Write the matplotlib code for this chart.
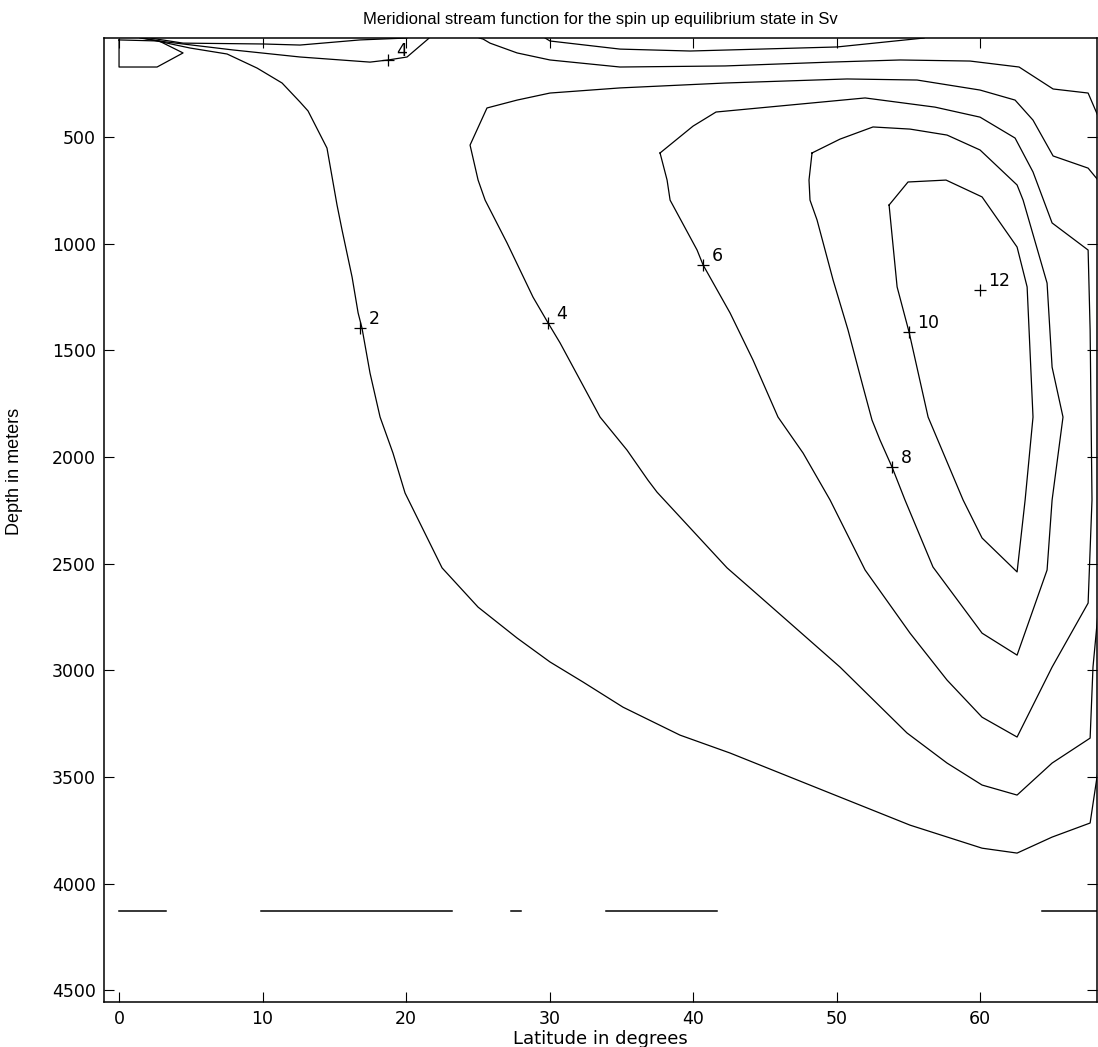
import matplotlib
matplotlib.use("Agg")
import matplotlib.pyplot as plt

# contour lines: latitude (deg) / depth (m)
# contour 2, deep branch (surface near 2N, down to the bottom, out at the right edge)
c2_lat = [1.67, 4.95, 7.53, 9.62, 11.36, 12.61, 13.17, 14.49, 15.19, 15.54, 16.24, 16.66,
          16.93, 17.49, 18.19, 19.09, 19.93, 22.51, 25.02, 27.74, 30.03, 32.33, 35.12,
          39.09, 42.58, 49.55, 55.12, 60.14, 62.58, 65.02, 67.67, 68.15, 68.6]
c2_dep = [36, 83, 111, 177, 247, 336, 378, 552, 819, 936, 1157, 1325,
          1396, 1607, 1813, 1982, 2169, 2520, 2704, 2849, 2961, 3055, 3173,
          3304, 3388, 3576, 3726, 3834, 3857, 3782, 3716, 3500, 3300]
# contour 2, shallow branch along the surface
c2s_lat = [68.6, 68.22, 67.53, 65.09, 62.72, 59.30, 54.43, 49.55, 42.23, 34.91, 30.03,
           27.74, 25.85, 25.37, 25.1]
c2s_dep = [450, 402, 294, 275, 172, 144, 139, 149, 167, 172, 139, 106, 60, 41, 36]

# contour 4, main cell (leaves and re-enters at the right edge)
c4_lat = [68.6, 68.22, 67.53, 65.09, 63.69, 62.44, 60.00, 55.61, 50.73, 42.23, 34.91,
          30.03, 27.74, 25.64, 24.46, 25.02, 25.51, 27.04, 28.85, 29.90, 30.73, 33.52,
          35.40, 36.86, 37.49, 42.37, 43.97, 46.76, 50.24, 54.91, 57.70, 60.14, 62.58,
          65.02, 67.67, 67.87, 68.22, 68.6]
c4_dep = [720, 702, 646, 589, 421, 327, 280, 233, 228, 247, 270,
          294, 327, 364, 538, 702, 796, 997, 1251, 1372, 1465, 1813,
          1968, 2109, 2165, 2520, 2614, 2779, 2985, 3294, 3435, 3538, 3585,
          3435, 3318, 2985, 2732, 2650]
# contour 4, Ekman lens near the surface
c4s_lat = [1.46, 3.34, 7.94, 12.61, 17.49, 18.75, 20.07, 21.53, 21.6]
c4s_dep = [36, 55, 92, 125, 149, 139, 125, 41, 36]

# thin surface lenses
s1_lat = [2.16, 4.46, 10.03, 12.61, 16.79, 20.07]
s1_dep = [36, 60, 64, 69, 45, 36]
s2_lat = [29.69, 30.03, 34.91, 39.79, 44.67, 50.03, 56.10]
s2_dep = [36, 50, 88, 97, 88, 78, 36]
# small closed contour in the top left corner
cp_lat = [0.0, 0.0, 2.65, 4.46, 2.79, 0.0]
cp_dep = [45, 172, 172, 106, 50, 45]

c6_lat = [37.70, 40.00, 41.60, 51.99, 56.86, 60.00, 62.44, 63.69, 65.02, 67.53, 67.67,
          67.80, 67.53, 65.02, 62.58, 60.14, 57.70, 55.12, 51.99, 49.55, 47.67, 45.92,
          44.18, 42.58, 40.70, 40.28, 38.40, 38.19, 37.70]
c6_dep = [575, 449, 383, 317, 360, 407, 505, 664, 903, 1030, 1405,
          2202, 2685, 2985, 3313, 3220, 3046, 2826, 2530, 2202, 1982, 1813,
          1546, 1325, 1100, 1030, 796, 702, 575]

c8_lat = [48.29, 50.24, 52.54, 55.12, 57.70, 60.00, 62.58, 63.00, 64.67, 65.02, 65.78,
          65.02, 64.67, 62.58, 60.14, 56.72, 54.77, 53.87, 53.03, 52.47, 51.85, 50.80,
          49.76, 48.64, 48.15, 48.08, 48.29]
c8_dep = [575, 510, 453, 463, 491, 561, 725, 796, 1185, 1579, 1813,
          2202, 2530, 2929, 2826, 2516, 2202, 2048, 1921, 1827, 1672, 1405,
          1171, 889, 796, 702, 575]

c10_lat = [53.66, 54.98, 57.63, 60.14, 62.58, 63.28, 63.69, 63.14, 62.58, 60.14, 58.82,
           56.38, 55.05, 54.22, 53.66]
c10_dep = [819, 711, 702, 781, 1016, 1203, 1813, 2202, 2539, 2380, 2202,
           1813, 1414, 1203, 819]

# zero line along the bottom (broken)
bot_dep = 4128
bot_lat = [(0.0, 3.3), (9.9, 23.2), (27.3, 28.0), (33.9, 41.7), (64.3, 68.2)]

# contour labels
lab_val = [2, 4, 4, 6, 8, 10, 12]
lab_lat = [16.8, 29.9, 18.75, 40.7, 53.87, 55.05, 60.0]
lab_dep = [1396, 1372, 139, 1100, 2048, 1414, 1218]

fig = plt.figure(figsize=(10.98, 10.47), dpi=100)
ax = fig.add_axes([0.0947, 0.043, 0.9044, 0.9207])

lines = [(c2_lat, c2_dep), (c2s_lat, c2s_dep), (c4_lat, c4_dep), (c4s_lat, c4s_dep),
         (s1_lat, s1_dep), (s2_lat, s2_dep), (cp_lat, cp_dep), (c6_lat, c6_dep),
         (c8_lat, c8_dep), (c10_lat, c10_dep)]
for la, de in lines:
    ax.plot(la, de, color='black', lw=0.9)
for a, b in bot_lat:
    ax.plot([a, b], [bot_dep, bot_dep], color='black', lw=1.1)

ax.plot(lab_lat, lab_dep, '+', color='black', ms=9, mew=0.9)
for v, la, de in zip(lab_val, lab_lat, lab_dep):
    ax.annotate(str(v), (la, de), xytext=(6, 6.5), textcoords='offset points',
                ha='left', va='center', fontsize=12.5, family='DejaVu Sans')

ax.set_xlim(-1.05, 68.15)
ax.set_ylim(4555, 36)
ax.set_xticks(range(0, 61, 10))
ax.set_yticks(range(500, 4501, 500))
ax.tick_params(direction='in', length=7, width=0.8, top=True, right=True,
               labelsize=12.5, pad=6)
for lbl in ax.get_xticklabels() + ax.get_yticklabels():
    lbl.set_family('DejaVu Sans')
for s in ax.spines.values():
    s.set_linewidth(1.1)

ax.set_title('Meridional stream function for the spin up equilibrium state in Sv',
             fontsize=12, family='Liberation Sans', pad=10)
ax.set_xlabel('Latitude in degrees', fontsize=13, family='DejaVu Sans', labelpad=1)
ax.set_ylabel('Depth in meters', fontsize=13, family=['Liberation Sans Narrow', 'Liberation Sans'])
ax.yaxis.set_label_coords(-0.082, 0.55)

fig.savefig('out.png', dpi=100)
